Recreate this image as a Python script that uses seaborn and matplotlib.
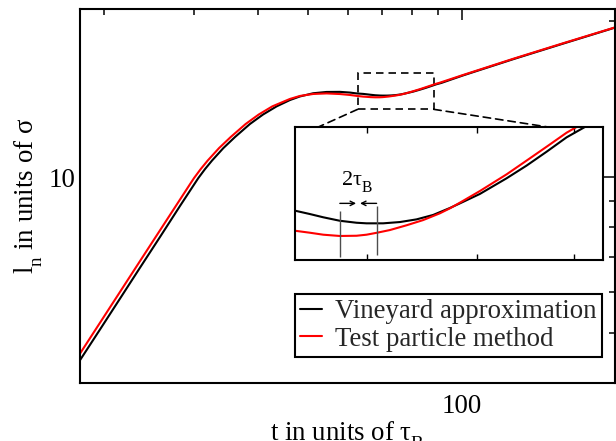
import matplotlib
matplotlib.use("Agg")
import matplotlib.pyplot as plt
import matplotlib._mathtext as _mt
import seaborn as sns
import pandas as pd
from matplotlib.ticker import FixedLocator, FixedFormatter, NullFormatter, NullLocator
from matplotlib.patches import Rectangle, ConnectionPatch
from matplotlib.lines import Line2D

# ---------------- data ----------------
t_vineyard = [17.935, 19.627, 21.475, 23.490, 25.712, 28.126, 30.100, 30.550, 31.486, 32.495,
              34.190, 36.038, 38.548, 40.868, 43.463, 46.140, 48.264, 51.238, 54.426,
              57.809, 60.470, 62.405,
              64.18, 65.35, 66.42, 67.77, 69.16, 70.00, 71.43, 72.89, 74.38, 75.89,
              77.45, 78.40, 80.32, 82.97, 85.00, 87.10, 89.24, 91.24,
              100.7, 126.1, 157.9, 198.7]
l_vineyard = [4.4344, 5.0834, 5.8301, 6.6845, 7.6651, 8.7935, 9.7369, 9.9556, 10.362, 10.761,
              11.372, 11.947, 12.659, 13.199, 13.689, 14.078, 14.305, 14.510, 14.594,
              14.601, 14.555, 14.497,
              14.469, 14.440, 14.412, 14.382, 14.365, 14.360, 14.360, 14.371, 14.394, 14.432,
              14.492, 14.532, 14.613, 14.748, 14.857, 14.977, 15.101, 15.19,
              15.71, 16.88, 18.09, 19.40]

t_test = [17.935, 23.490, 29.523, 29.965, 30.882, 31.866, 33.535, 35.347, 37.809, 40.085,
          42.630, 46.140, 48.264, 51.238, 54.426, 57.809, 60.470, 62.405,
          64.18, 65.35, 66.42, 67.77, 69.16, 70.00, 70.90, 72.01, 73.48, 74.98,
          76.51, 77.45, 78.40, 80.32, 82.97, 85.00, 87.10, 89.24, 90.32,
          100.7, 126.1, 157.9, 198.7]
l_test = [4.5665, 6.8837, 9.7369, 9.9556, 10.362, 10.761, 11.372, 11.947, 12.659, 13.199,
          13.689, 14.147, 14.337, 14.464, 14.500, 14.460, 14.400, 14.340,
          14.296, 14.279, 14.262, 14.251, 14.253, 14.262, 14.279, 14.302, 14.343, 14.388,
          14.446, 14.489, 14.538, 14.638, 14.782, 14.900, 15.020, 15.141, 15.19,
          15.74, 16.91, 18.12, 19.42]

series_labels = ["Vineyard approximation", "Test particle method"]
series_colors = ["black", "red"]

x_major_ticks = [100]
x_major_labels = ["100"]
x_minor_ticks = [20, 30, 40, 50, 60, 70, 80, 90, 200]
y_major_ticks = [10]
y_major_labels = ["10"]
y_minor_ticks = [5, 6, 7, 8, 9, 20]
main_xlim = (17.93, 199.5)
main_ylim = (4.0, 21.07)

inset_xlim = (64.18, 93.27)
inset_ylim = (14.044, 15.19)
inset_x_ticks = [70, 80, 90]

zoom_box_t = (62.6, 88.2)
zoom_box_l = (13.51, 15.86)

tau_marker_t = [67.77, 70.90]
tau_marker_low = [14.072, 14.087]
tau_marker_high = [14.469, 14.509]
tau_arrow_l = 14.532
tau_arrow_right = (67.77, 69.12)
tau_arrow_left = (70.86, 69.45)
tau_text_pos = (67.83, 14.69)

# ---------------- style ----------------
sns.set_theme(style="white")
plt.rcParams["font.family"] = ["Liberation Serif", "DejaVu Serif"]
plt.rcParams["mathtext.fontset"] = "custom"
plt.rcParams["mathtext.rm"] = "Liberation Serif"
plt.rcParams["mathtext.it"] = "Liberation Serif:italic"
plt.rcParams["mathtext.bf"] = "Liberation Serif:bold"
plt.rcParams["axes.linewidth"] = 1.5
# deeper subscripts, as in the original figure
_mt.FontConstantsBase.sub1 = 0.75

FS = 19.4

df = pd.concat([
    pd.DataFrame({"t": t_vineyard, "l": l_vineyard, "method": series_labels[0]}),
    pd.DataFrame({"t": t_test, "l": l_test, "method": series_labels[1]}),
], ignore_index=True)
palette = dict(zip(series_labels, series_colors))

W, H = 616, 441
fig = plt.figure(figsize=(W / 100, H / 100), dpi=100)
fig.patch.set_facecolor("white")

ax = fig.add_axes([80 / W, 1 - 383.3 / H, 535 / W, 374 / H])
sns.lineplot(data=df, x="t", y="l", hue="method", palette=palette, estimator=None,
             sort=False, ax=ax, legend=False, linewidth=1.5)
ax.set_xscale("log")
ax.set_yscale("log")
ax.set_xlim(*main_xlim)
ax.set_ylim(*main_ylim)

ax.xaxis.set_major_locator(FixedLocator(x_major_ticks))
ax.xaxis.set_major_formatter(FixedFormatter(x_major_labels))
ax.xaxis.set_minor_locator(FixedLocator(x_minor_ticks))
ax.xaxis.set_minor_formatter(NullFormatter())
ax.yaxis.set_major_locator(FixedLocator(y_major_ticks))
ax.yaxis.set_major_formatter(FixedFormatter(y_major_labels))
ax.yaxis.set_minor_locator(FixedLocator(y_minor_ticks))
ax.yaxis.set_minor_formatter(NullFormatter())

ax.tick_params(which="both", direction="in", top=True, right=True, colors="black",
               labelsize=FS, width=1.1)
ax.tick_params(which="major", length=7.7)
ax.tick_params(which="minor", length=4.1)
ax.tick_params(axis="x", which="major", pad=8)
ax.tick_params(axis="y", which="major", pad=3)
for s in ax.spines.values():
    s.set_color("black")
    s.set_linewidth(1.5)

ax.set_xlabel(r"t in units of τ$_{\rm B}$", fontsize=FS, labelpad=0, color="black")
ax.set_ylabel(r"l$_{\rm n}$ in units of σ", fontsize=FS, labelpad=3, color="black")

handles = [Line2D([0], [0], color=c, lw=1.5) for c in series_colors]
leg = ax.legend(handles, series_labels, loc="lower right",
                bbox_to_anchor=((602.3 - 80) / 535, (383.3 - 357.3) / 374),
                frameon=True, fancybox=False, edgecolor="black", framealpha=1,
                borderpad=0.2, handlelength=0.8, handletextpad=0.5,
                labelspacing=0.1, borderaxespad=0, fontsize=FS)
leg.get_frame().set_linewidth(1.5)

# dashed zoom box
dash = (0, (4.5, 3))
rect = Rectangle((zoom_box_t[0], zoom_box_l[0]), zoom_box_t[1] - zoom_box_t[0],
                 zoom_box_l[1] - zoom_box_l[0], fill=False, edgecolor="black",
                 linewidth=1.2, linestyle=dash)
ax.add_patch(rect)

# ---------------- inset ----------------
axins = fig.add_axes([295 / W, 1 - 260 / H, 308 / W, 133 / H])
axins.set_facecolor("white")
sns.lineplot(data=df, x="t", y="l", hue="method", palette=palette, estimator=None,
             sort=False, ax=axins, legend=False, linewidth=1.5)
axins.set_xscale("log")
axins.set_xlim(*inset_xlim)
axins.set_ylim(*inset_ylim)
axins.xaxis.set_major_locator(FixedLocator(inset_x_ticks))
axins.xaxis.set_major_formatter(NullFormatter())
axins.xaxis.set_minor_locator(NullLocator())
axins.xaxis.set_minor_formatter(NullFormatter())
axins.yaxis.set_major_locator(NullLocator())
axins.yaxis.set_minor_locator(NullLocator())
axins.tick_params(axis="x", which="both", direction="in", top=True, bottom=True,
                  length=4.5, width=1.0, colors="black", labelbottom=False)
axins.set_xlabel("")
axins.set_ylabel("")
for s in axins.spines.values():
    s.set_color("black")
    s.set_linewidth(1.5)

for xA, xB, yB in [(zoom_box_t[0], 0.0, 0.921), (zoom_box_t[1], 1.0, 0.936)]:
    con = ConnectionPatch(xyA=(xA, zoom_box_l[0]), coordsA=ax.transData,
                          xyB=(xB, yB), coordsB=axins.transAxes,
                          color="black", linewidth=1.2, linestyle=dash)
    con.set_clip_on(False)
    ax.add_artist(con)

axins.vlines(tau_marker_t, tau_marker_low, tau_marker_high, colors="0.3", linewidth=1.0)
axins.annotate("", xy=(tau_arrow_right[1], tau_arrow_l), xytext=(tau_arrow_right[0], tau_arrow_l),
               arrowprops=dict(arrowstyle="->", lw=1.0, color="black", shrinkA=0, shrinkB=0,
                               mutation_scale=8))
axins.annotate("", xy=(tau_arrow_left[1], tau_arrow_l), xytext=(tau_arrow_left[0], tau_arrow_l),
               arrowprops=dict(arrowstyle="->", lw=1.0, color="black", shrinkA=0, shrinkB=0,
                               mutation_scale=8))
axins.text(tau_text_pos[0], tau_text_pos[1], r"2τ$_{\rm B}$", fontsize=16,
           ha="left", va="baseline", color="black")

fig.savefig("out.png", dpi=100, facecolor="white")
